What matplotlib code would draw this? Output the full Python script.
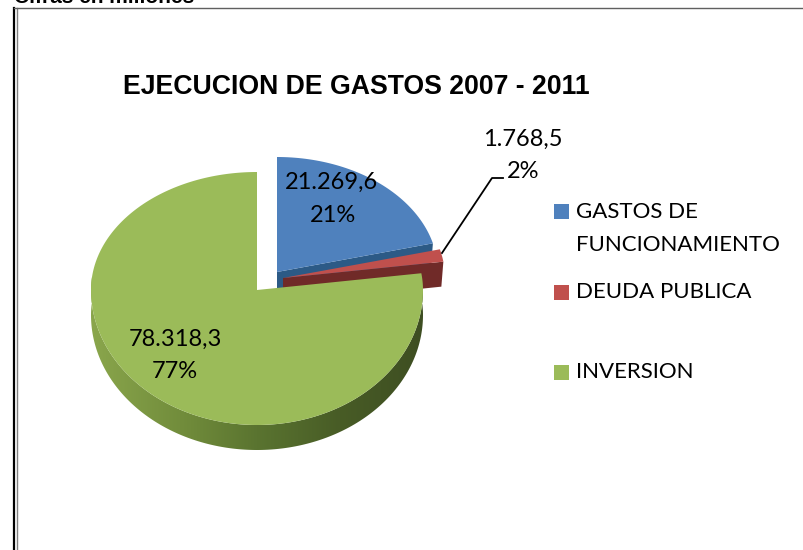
import numpy as np
import matplotlib
matplotlib.use("Agg")
import matplotlib.pyplot as plt
from matplotlib.colors import LinearSegmentedColormap
from matplotlib.patches import Polygon

categories = ["GASTOS DE\nFUNCIONAMIENTO", "DEUDA PUBLICA", "INVERSION"]
values = [21269.6, 1768.5, 78318.3]
value_labels = ["21.269,6", "1.768,5", "78.318,3"]
pct_labels = ["21%", "2%", "77%"]
title = "EJECUCION DE GASTOS 2007 - 2011"
note = "Cifras en millones"

top_colors = ["#4F81BD", "#C0504D", "#9BBB59"]
side_colors = ["#2C5A86", "#702A28", "#5C7530"]
apex = [(277, 272), (283, 278), (257, 290)]
radius = [161, 162, 166]
ry_up = [115, 115, 118]
RY_DOWN = 135
DEPTH = 25


def project(theta, k):
    # pie seen in perspective: the far half is flatter than the near half
    ry = np.where(np.sin(theta) > 0, ry_up[k], RY_DOWN)
    x = apex[k][0] + radius[k] * np.cos(theta)
    y = apex[k][1] - ry * np.sin(theta)
    return x, y


fig = plt.figure(figsize=(8.04, 5.5), dpi=100)
ax = fig.add_axes([0, 0, 1, 1])
ax.set_xlim(0, 804)
ax.set_ylim(550, 0)
ax.axis("off")

# angles of the slices, clockwise from twelve o'clock
fracs = np.array(values) / sum(values)
edges = np.pi / 2 - 2 * np.pi * np.concatenate([[0], np.cumsum(fracs)])

# blue and red cut faces and top faces
for k in [0, 1]:
    t = np.linspace(edges[k], edges[k + 1], 60)
    x, y = project(t, k)
    ax.fill([apex[k][0], x[-1], x[-1] - 2, apex[k][0]],
            [apex[k][1], y[-1], y[-1] + DEPTH, apex[k][1] + DEPTH],
            color=side_colors[k], lw=0)
    ax.fill(np.r_[apex[k][0], x], np.r_[apex[k][1], y], color=top_colors[k], lw=0)

# green side: a left to right gradient clipped to the rim, then the top face
t = np.linspace(edges[2], edges[3], 400)
x, y = project(t, 2)
low = t[np.sin(t) <= 0.12]
xl, yl = project(low, 2)
rim = Polygon(np.c_[np.r_[xl, xl[::-1]], np.r_[yl, yl[::-1] + DEPTH]], closed=True, transform=ax.transData)
side_cmap = LinearSegmentedColormap.from_list(
    "side", [(0, "#8AA64C"), (0.3, "#6F8A3A"), (0.5, "#5A7430"), (0.75, "#485C26"), (1, "#3E4E22")])
grad = ax.imshow(np.linspace(0, 1, 256).reshape(1, -1), cmap=side_cmap, aspect="auto",
                 extent=(91, 423, 480, 270), interpolation="bilinear")
grad.set_clip_path(rim)
ax.set_xlim(0, 804)
ax.set_ylim(550, 0)
ax.fill(np.r_[apex[2][0], x], np.r_[apex[2][1], y], color=top_colors[2], lw=0)

# data labels
label_font = ["Lato", "DejaVu Sans"]
ax.text(332, 182, value_labels[0], ha="center", va="center", fontsize=17, family=label_font, color="black")
ax.text(333, 216, pct_labels[0], ha="center", va="center", fontsize=17, family=label_font, color="black")
ax.text(523, 139, value_labels[1], ha="center", va="center", fontsize=17, family=label_font, color="black")
ax.text(523, 172, pct_labels[1], ha="center", va="center", fontsize=17, family=label_font, color="black")
ax.text(175, 339, value_labels[2], ha="center", va="center", fontsize=17, family=label_font, color="black")
ax.text(175, 372, pct_labels[2], ha="center", va="center", fontsize=17, family=label_font, color="black")
ax.plot([442, 492, 503], [253, 178, 178], color="black", lw=1.3)

# legend
ax.fill([554, 569, 569, 554], [204, 204, 219, 219], color=top_colors[0], lw=0)
ax.fill([554, 569, 569, 554], [285, 285, 300, 300], color=top_colors[1], lw=0)
ax.fill([554, 569, 569, 554], [365, 365, 380, 380], color=top_colors[2], lw=0)
ax.text(576, 212, categories[0].split("\n")[0], va="center", fontsize=16, family=label_font)
ax.text(576, 245, categories[0].split("\n")[1], va="center", fontsize=16, family=label_font)
ax.text(576, 292, categories[1], va="center", fontsize=16, family=label_font)
ax.text(576, 372, categories[2], va="center", fontsize=16, family=label_font)

# title and the note cut by the top edge
ax.text(123, 86.5, title, va="center", fontsize=19.2, fontweight="bold", family="Liberation Sans")
ax.text(14, 3, note, va="baseline", fontsize=15, fontweight="bold", family="Liberation Sans")

# frame
ax.plot([14.5, 14.5], [8, 550], color="black", lw=1.6)
ax.plot([17.5, 17.5], [8, 550], color="#808080", lw=1)
ax.plot([14, 804], [8, 8], color="#606060", lw=1)

fig.savefig("out.png", dpi=100)
